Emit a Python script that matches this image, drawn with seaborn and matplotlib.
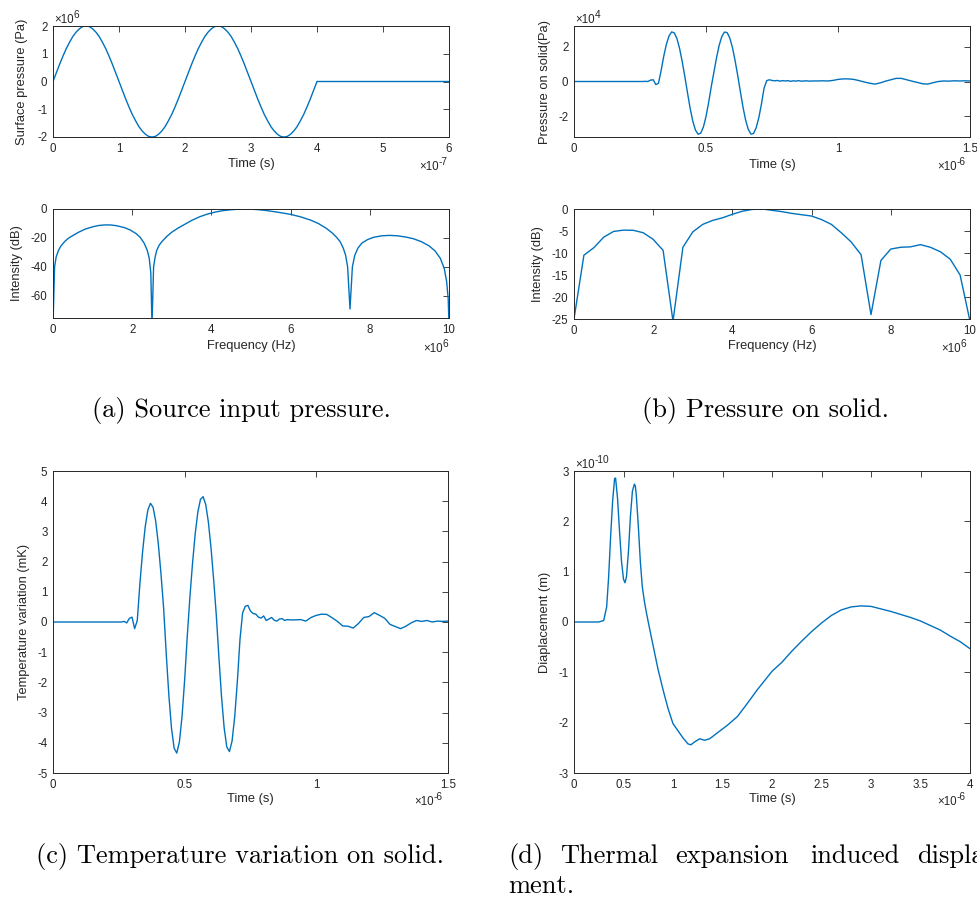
import numpy as np
import pandas as pd
import matplotlib
matplotlib.use("Agg")
import matplotlib.pyplot as plt
import seaborn as sns
from matplotlib.ticker import FixedLocator, FuncFormatter

# ---------------- data ----------------
# (a) source input pressure, time in 1e-7 s, pressure in 1e6 Pa
a_time = [0.00, 0.05, 0.10, 0.15, 0.20, 0.25, 0.30, 0.35, 0.40, 0.45, 0.50, 0.55, 0.60, 0.65, 0.70,
          0.75, 0.80, 0.85, 0.90, 0.95, 1.00, 1.05, 1.10, 1.15, 1.20, 1.25, 1.30, 1.35, 1.40, 1.45,
          1.50, 1.55, 1.60, 1.65, 1.70, 1.75, 1.80, 1.85, 1.90, 1.95, 2.00, 2.05, 2.10, 2.15, 2.20,
          2.25, 2.30, 2.35, 2.40, 2.45, 2.50, 2.55, 2.60, 2.65, 2.70, 2.75, 2.80, 2.85, 2.90, 2.95,
          3.00, 3.05, 3.10, 3.15, 3.20, 3.25, 3.30, 3.35, 3.40, 3.45, 3.50, 3.55, 3.60, 3.65, 3.70,
          3.75, 3.80, 3.85, 3.90, 3.95, 4.00, 6.00]
a_pressure = [0.00, 0.31, 0.62, 0.91, 1.18, 1.41, 1.62, 1.78, 1.90, 1.98, 2.00, 1.98, 1.90, 1.78, 1.62,
              1.41, 1.18, 0.91, 0.62, 0.31, 0.00, -0.31, -0.62, -0.91, -1.18, -1.41, -1.62, -1.78, -1.90, -1.98,
              -2.00, -1.98, -1.90, -1.78, -1.62, -1.41, -1.18, -0.91, -0.62, -0.31, 0.00, 0.31, 0.62, 0.91, 1.18,
              1.41, 1.62, 1.78, 1.90, 1.98, 2.00, 1.98, 1.90, 1.78, 1.62, 1.41, 1.18, 0.91, 0.62, 0.31,
              0.00, -0.31, -0.62, -0.91, -1.18, -1.41, -1.62, -1.78, -1.90, -1.98, -2.00, -1.98, -1.90, -1.78, -1.62,
              -1.41, -1.18, -0.91, -0.62, -0.31, 0.00, 0.00]

# (a) spectrum, frequency in MHz, intensity in dB
a_freq = [0.00, 0.04, 0.08, 0.14, 0.20, 0.30, 0.40, 0.50, 0.65, 0.80, 1.00, 1.15, 1.30, 1.45, 1.60,
          1.80, 1.95, 2.10, 2.20, 2.30, 2.38, 2.43, 2.47, 2.50, 2.54, 2.58, 2.62, 2.68, 2.75, 2.87,
          3.00, 3.15, 3.30, 3.50, 3.70, 3.90, 4.10, 4.30, 4.50, 4.72, 4.85, 5.00, 5.20, 5.40, 5.70,
          6.00, 6.25, 6.50, 6.70, 6.90, 7.05, 7.16, 7.25, 7.33, 7.39, 7.44, 7.50, 7.56, 7.62, 7.70,
          7.80, 7.95, 8.10, 8.30, 8.50, 8.70, 8.90, 9.10, 9.30, 9.50, 9.65, 9.78, 9.88, 9.94, 9.98, 10.00]
a_intensity = [-80, -40, -33, -28.5, -25.5, -22.3, -20, -18.3, -16, -14, -12.3, -11.4, -11, -11, -11.5,
               -12.8, -14.5, -17, -19.5, -23.5, -28.5, -34, -44, -80, -40, -33, -28.5, -25, -22.5, -19,
               -16, -13.3, -11, -7.9, -5.4, -3.5, -2.1, -1.1, -0.5, -0.1, 0, -0.1, -0.5, -1.1, -2.3,
               -3.7, -5.4, -7.6, -10, -13.3, -16.5, -19.5, -22.5, -27, -32, -40, -69, -40, -32, -27,
               -23.5, -21, -19.5, -18.5, -18.2, -18.5, -19.3, -20.5, -22.5, -25.5, -29, -34, -41, -50, -62, -80]

# (b) pressure on solid and (c) temperature, time in 1e-6 s
solid_time = [0.00, 0.25, 0.26, 0.27, 0.28, 0.29, 0.30, 0.31, 0.32, 0.33, 0.34, 0.35, 0.36, 0.37, 0.38,
              0.39, 0.40, 0.41, 0.42, 0.43, 0.44, 0.45, 0.46, 0.47, 0.48, 0.49, 0.50, 0.51, 0.52, 0.53,
              0.54, 0.55, 0.56, 0.57, 0.58, 0.59, 0.60, 0.61, 0.62, 0.63, 0.64, 0.65, 0.66, 0.67, 0.68,
              0.69, 0.70, 0.71, 0.72, 0.73, 0.74, 0.75, 0.76, 0.77, 0.78, 0.79, 0.80, 0.81, 0.82, 0.83,
              0.84, 0.85, 0.86, 0.87, 0.88, 0.89, 0.90, 0.92, 0.94, 0.96, 0.98, 1.00, 1.02, 1.04, 1.06,
              1.08, 1.10, 1.12, 1.14, 1.16, 1.18, 1.20, 1.22, 1.24, 1.26, 1.28, 1.30, 1.32, 1.34, 1.36,
              1.38, 1.40, 1.42, 1.44, 1.46, 1.48, 1.50]
# pressure in 1e4 Pa
b_pressure = [0.00, 0.00, 0.00, 0.01, 0.00, 0.08, 0.10, -0.18, -0.10, 0.63, 1.46, 2.15, 2.63, 2.86, 2.80,
              2.47, 1.90, 1.14, 0.27, -0.66, -1.55, -2.29, -2.80, -3.04, -2.98, -2.63, -2.02, -1.21, -0.29, 0.54,
              1.38, 2.09, 2.60, 2.85, 2.82, 2.51, 1.97, 1.22, 0.36, -0.57, -1.47, -2.22, -2.76, -3.03, -3.00,
              -2.67, -2.09, -1.30, -0.38, 0.05, 0.10, 0.06, 0.04, 0.06, 0.02, 0.05, 0.03, 0.05, 0.01, 0.04,
              0.02, 0.05, 0.02, 0.03, 0.04, 0.02, 0.03, 0.03, 0.04, 0.03, 0.06, 0.12, 0.15, 0.15, 0.12,
              0.05, -0.03, -0.10, -0.15, -0.08, 0.02, 0.10, 0.18, 0.18, 0.10, 0.02, -0.05, -0.13, -0.15, -0.07,
              0.00, 0.03, 0.02, 0.04, 0.03, 0.04, 0.03]
# temperature variation in mK
c_temperature = [0.00, 0.00, 0.00, 0.02, -0.03, 0.12, 0.16, -0.22, 0.05, 1.27, 2.31, 3.14, 3.70, 3.93, 3.80,
                 3.34, 2.58, 1.60, 0.47, -1.05, -2.43, -3.52, -4.18, -4.34, -3.97, -3.13, -1.91, -0.45, 0.84, 1.96,
                 2.92, 3.64, 4.06, 4.15, 3.89, 3.31, 2.46, 1.41, 0.24, -1.16, -2.48, -3.51, -4.14, -4.29, -3.94,
                 -3.14, -1.98, -0.58, 0.30, 0.52, 0.55, 0.36, 0.28, 0.26, 0.16, 0.13, 0.20, 0.05, 0.10, 0.15,
                 0.06, 0.03, 0.10, 0.11, 0.05, 0.08, 0.07, 0.07, 0.08, 0.03, 0.15, 0.22, 0.26, 0.25, 0.14,
                 0.02, -0.13, -0.14, -0.20, -0.05, 0.15, 0.18, 0.31, 0.22, 0.12, -0.08, -0.15, -0.22, -0.14, -0.03,
                 0.05, 0.02, 0.05, 0.00, 0.03, 0.02, 0.03]

# (b) spectrum, frequency in MHz, intensity in dB
b_freq = [0.00, 0.25, 0.50, 0.75, 1.00, 1.25, 1.50, 1.75, 2.00, 2.25, 2.50, 2.75, 3.00, 3.25, 3.50,
          3.75, 4.00, 4.25, 4.50, 4.75, 5.00, 5.25, 5.50, 5.75, 6.00, 6.25, 6.50, 6.75, 7.00, 7.25,
          7.50, 7.75, 8.00, 8.25, 8.50, 8.75, 9.00, 9.25, 9.50, 9.75, 10.00]
b_intensity = [-25, -10.5, -8.8, -6.4, -5.1, -4.8, -4.85, -5.4, -6.9, -9.4, -25.5, -8.7, -5.2, -3.5, -2.6,
               -2.0, -1.2, -0.5, -0.1, 0.0, -0.3, -0.6, -1.0, -1.3, -1.6, -2.4, -3.5, -5.4, -7.5, -10.4,
               -24, -11.7, -9.1, -8.7, -8.6, -8.1, -8.7, -9.7, -11.4, -15, -25.5]

# (d) displacement, time in 1e-6 s, displacement in 1e-10 m
d_time = [0.00, 0.25, 0.30, 0.33, 0.35, 0.37, 0.39, 0.41, 0.42, 0.44, 0.46, 0.48, 0.50, 0.515, 0.53,
          0.55, 0.57, 0.59, 0.61, 0.62, 0.63, 0.65, 0.67, 0.69, 0.71, 0.73, 0.75, 0.80, 0.85, 0.90,
          0.95, 1.00, 1.05, 1.10, 1.15, 1.18, 1.22, 1.27, 1.32, 1.37, 1.45, 1.55, 1.65, 1.75, 1.85,
          2.00, 2.10, 2.20, 2.30, 2.40, 2.50, 2.60, 2.70, 2.80, 2.90, 3.00, 3.10, 3.20, 3.30, 3.40,
          3.50, 3.60, 3.70, 3.80, 3.90, 4.00]
d_displacement = [0.00, 0.00, 0.03, 0.30, 0.90, 1.70, 2.40, 2.85, 2.86, 2.45, 1.80, 1.20, 0.85, 0.78, 0.90,
                  1.40, 2.10, 2.60, 2.74, 2.70, 2.50, 1.90, 1.20, 0.70, 0.42, 0.20, 0.00, -0.48, -0.95, -1.35,
                  -1.72, -2.02, -2.16, -2.30, -2.42, -2.44, -2.38, -2.32, -2.35, -2.32, -2.20, -2.05, -1.88, -1.62, -1.35,
                  -0.98, -0.80, -0.58, -0.38, -0.19, -0.02, 0.13, 0.24, 0.30, 0.32, 0.31, 0.26, 0.21, 0.15, 0.09,
                  0.02, -0.07, -0.16, -0.28, -0.39, -0.53]

# ---------------- style ----------------
sns.set_style("white")
plt.rcParams["font.family"] = ["Liberation Sans", "DejaVu Sans"]
plt.rcParams["axes.unicode_minus"] = False

W, H = 977, 900
fig = plt.figure(figsize=(W / 100, H / 100), dpi=100)
renderer = fig.canvas.get_renderer()
LINE = "#0072BD"
DARK = "#262626"
TICK_FS = 8.3
LAB_FS = 9.3


def add_ax(left, top, right, bottom):
    return fig.add_axes([left / W, 1 - bottom / H, (right - left) / W, (bottom - top) / H])


def style(ax, box, xlim, ylim, xticks, yticks, xs, ys, xlabel, ylabel, xlab_off, ylab_off):
    left, top, right, bottom = box
    ax.set_xlim(*xlim)
    ax.set_ylim(*ylim)
    ax.xaxis.set_major_locator(FixedLocator(xticks))
    ax.yaxis.set_major_locator(FixedLocator(yticks))
    ax.xaxis.set_major_formatter(FuncFormatter(lambda v, p: f"{v / xs:g}"))
    ax.yaxis.set_major_formatter(FuncFormatter(lambda v, p: f"{v / ys:g}"))
    ax.tick_params(direction="in", top=True, right=True, length=4, width=0.6,
                   colors=DARK, labelsize=TICK_FS, pad=4)
    for s in ax.spines.values():
        s.set_color(DARK)
        s.set_linewidth(0.7)
        s.set_visible(True)
    ax.set_xlabel(xlabel, fontsize=LAB_FS, color=DARK)
    ax.set_ylabel(ylabel, fontsize=LAB_FS, color=DARK)
    ax.xaxis.set_label_coords(0.5, -xlab_off / (bottom - top))
    ax.yaxis.set_label_coords(-ylab_off / (right - left), 0.5)
    ax.grid(False)


def mult(x, y, exp, ha):
    """MATLAB-like exponent label: small 'x10' with a raised exponent."""
    base = fig.text(0, 0, "\u00d710", fontsize=8.3, color=DARK, va="center", ha="left")
    sup = fig.text(0, 0, exp, fontsize=7.3, color=DARK, va="center", ha="left")
    wb = base.get_window_extent(renderer).width
    ws = sup.get_window_extent(renderer).width
    x0 = x if ha == "left" else x - wb - ws
    base.set_position((x0 / W, 1 - y / H))
    sup.set_position(((x0 + wb) / W, 1 - (y - 5) / H))


def draw(ax, x, y):
    df = pd.DataFrame({"x": x, "y": y})
    sns.lineplot(data=df, x="x", y="y", ax=ax, color=LINE, linewidth=1.0, estimator=None, sort=False)


# (a) top
box = (53, 26, 449, 137)
ax = add_ax(*box)
draw(ax, np.array(a_time) * 1e-7, np.array(a_pressure) * 1e6)
style(ax, box, (0, 6e-7), (-2e6, 2e6), [i * 1e-7 for i in range(7)], [i * 1e6 for i in range(-2, 3)],
      1e-7, 1e6, "Time (s)", "Surface pressure (Pa)", 21, 25)
mult(54, 20, "6", "left")
mult(448, 167, "-7", "right")

# (a) bottom
box = (53, 209, 449, 318)
ax = add_ax(*box)
draw(ax, np.array(a_freq) * 1e6, a_intensity)
style(ax, box, (0, 1e7), (-75.2, 0), [i * 2e6 for i in range(6)], [-60, -40, -20, 0],
      1e6, 1, "Frequency (Hz)", "Intensity (dB)", 22, 30)
mult(448, 349, "6", "right")

# (b) top
box = (574, 26, 970, 137)
ax = add_ax(*box)
draw(ax, np.array(solid_time) * 1e-6, np.array(b_pressure) * 1e4)
style(ax, box, (0, 1.5e-6), (-3.2e4, 3.2e4), [0, 0.5e-6, 1e-6, 1.5e-6], [-2e4, 0, 2e4],
      1e-6, 1e4, "Time (s)", "Pressure on solid(Pa)", 22, 23)
mult(575, 20, "4", "left")
mult(966, 167, "-6", "right")

# (b) bottom
box = (574, 209, 970, 319)
ax = add_ax(*box)
draw(ax, np.array(b_freq) * 1e6, b_intensity)
style(ax, box, (0, 1e7), (-25, 0), [i * 2e6 for i in range(6)], [-25, -20, -15, -10, -5, 0],
      1e6, 1, "Frequency (Hz)", "Intensity (dB)", 21, 30)
mult(966, 349, "6", "right")

# (c)
box = (53, 471, 448, 773)
ax = add_ax(*box)
draw(ax, np.array(solid_time) * 1e-6, c_temperature)
style(ax, box, (0, 1.5e-6), (-5, 5), [0, 0.5e-6, 1e-6, 1.5e-6], list(range(-5, 6)),
      1e-6, 1, "Time (s)", "Temperature variation (mK)", 20, 23)
mult(443, 802, "-6", "right")

# (d)
box = (574, 471, 970, 773)
ax = add_ax(*box)
draw(ax, np.array(d_time) * 1e-6, np.array(d_displacement) * 1e-10)
style(ax, box, (0, 4e-6), (-3e-10, 3e-10), [i * 0.5e-6 for i in range(9)], [i * 1e-10 for i in range(-3, 4)],
      1e-6, 1e-10, "Time (s)", "Diaplacement (m)", 20, 23)
mult(575, 465, "-10", "left")
mult(966, 802, "-6", "right")

# ---------------- captions ----------------
cap = dict(family=["cmr10", "DejaVu Serif"], fontsize=19, color="black", va="baseline")
fig.text(241 / W, 1 - 417 / H, "(a) Source input pressure.", ha="center", **cap)
fig.text(765 / W, 1 - 417 / H, "(b) Pressure on solid.", ha="center", **cap)
fig.text(36 / W, 1 - 863 / H, "(c) Temperature variation on solid.", ha="left", **cap)
for word, xpos in [("(d)", 508), ("Thermal", 560), ("expansion", 675), ("induced", 810), ("displa", 917)]:
    fig.text(xpos / W, 1 - 863 / H, word, ha="left", **cap)
fig.text(508 / W, 1 - 893 / H, "ment.", ha="left", **cap)

fig.savefig("out.png", dpi=100)
